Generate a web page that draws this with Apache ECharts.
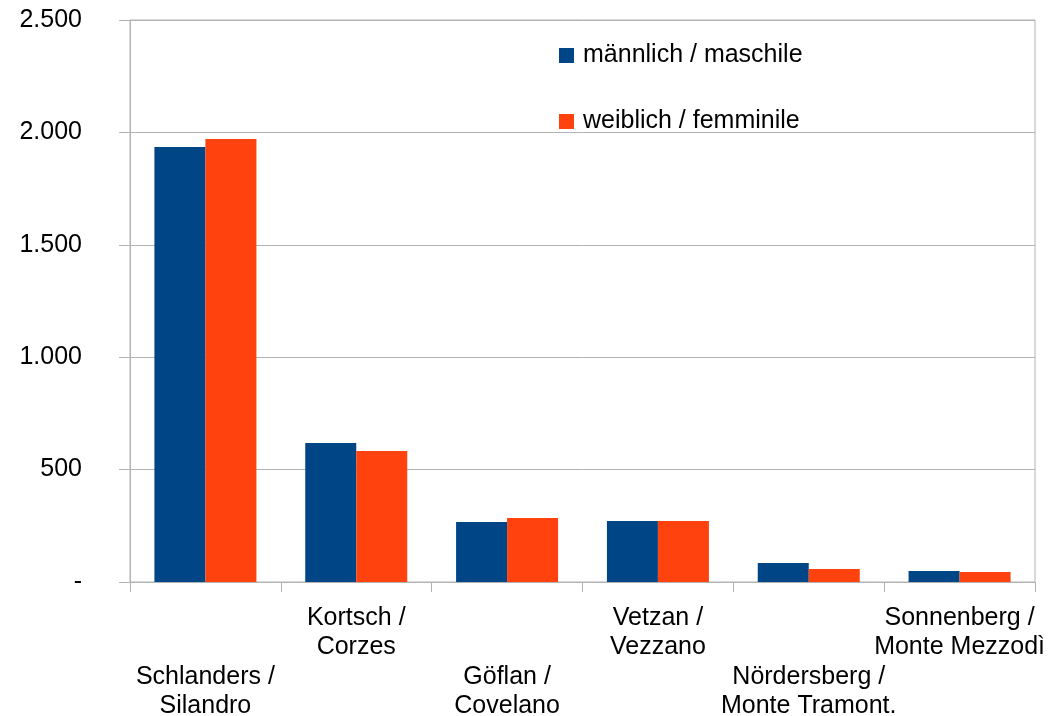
<!DOCTYPE html>
<html>
<head>
<meta charset="utf-8">
<script src="https://cdn.jsdelivr.net/npm/echarts@6/dist/echarts.min.js"></script>
<style>
  html, body { margin: 0; padding: 0; background: #fff; }
  #main { width: 1055px; height: 716px; }
</style>
</head>
<body>
<div id="main"></div>
<script>
// Ortschaften / frazioni
const categories = [
    'Schlanders /\nSilandro',
    'Kortsch /\nCorzes',
    'Göflan /\nCovelano',
    'Vetzan /\nVezzano',
    'Nördersberg /\nMonte Tramont.',
    'Sonnenberg /\nMonte Mezzodì'
];
const seriesNames = ['männlich / maschile', 'weiblich / femminile'];
const maleValues = [1935, 618, 267, 271, 85, 49];
const femaleValues = [1971, 583, 285, 271, 58, 44];

const gridColor = '#b3b3b3';
const font = 'Liberation Sans';

var chartDom = document.getElementById('main');
var myChart = echarts.init(chartDom);

// 1234 -> "1.234", 0 -> "-"
const fmtNum = (v) => {
    if (v === 0) return '-';
    return String(v).replace(/\B(?=(\d{3})+(?!\d))/g, '.');
};

var option = {
    animation: false,
    backgroundColor: '#fff',
    textStyle: { fontFamily: font },
    grid: {
        left: 130,
        right: 20,
        top: 20,
        bottom: 134,
        outerBoundsMode: 'none',
        containLabel: false,
        show: true,
        borderColor: gridColor,
        borderWidth: 1
    },
    legend: {
        orient: 'vertical',
        left: 559,
        top: 41,
        padding: 0,
        itemGap: 37,
        itemWidth: 15,
        itemHeight: 15,
        icon: 'rect',
        textStyle: {
            fontFamily: font,
            fontSize: 25,
            color: '#000',
            lineHeight: 29,
            padding: [0, 0, 0, 4]
        },
        data: seriesNames
    },
    xAxis: {
        type: 'category',
        data: categories,
        axisLine: { lineStyle: { color: gridColor, width: 1 } },
        axisTick: { show: true, length: 10, lineStyle: { color: gridColor } },
        axisLabel: {
            interval: 0,
            color: '#000',
            fontFamily: font,
            fontSize: 25,
            lineHeight: 29.5,
            margin: 21,
            // every other label is pushed down two lines
            formatter: (v, i) => (i % 2 === 0 ? '\n\n' + v : v)
        }
    },
    yAxis: {
        type: 'value',
        min: 0,
        max: 2500,
        interval: 500,
        axisLine: { show: true, lineStyle: { color: gridColor, width: 1 } },
        axisTick: { show: true, length: 11, lineStyle: { color: gridColor } },
        splitLine: { lineStyle: { color: gridColor, width: 1 } },
        axisLabel: {
            color: '#000',
            fontFamily: font,
            fontSize: 25,
            margin: 48,
            formatter: fmtNum
        }
    },
    series: [
        {
            name: seriesNames[0],
            type: 'bar',
            data: maleValues,
            barWidth: 51,
            barGap: '0%',
            itemStyle: { color: '#004586' }
        },
        {
            name: seriesNames[1],
            type: 'bar',
            data: femaleValues,
            barWidth: 51,
            barGap: '0%',
            itemStyle: { color: '#ff420e' }
        }
    ]
};

myChart.setOption(option);
</script>
</body>
</html>
